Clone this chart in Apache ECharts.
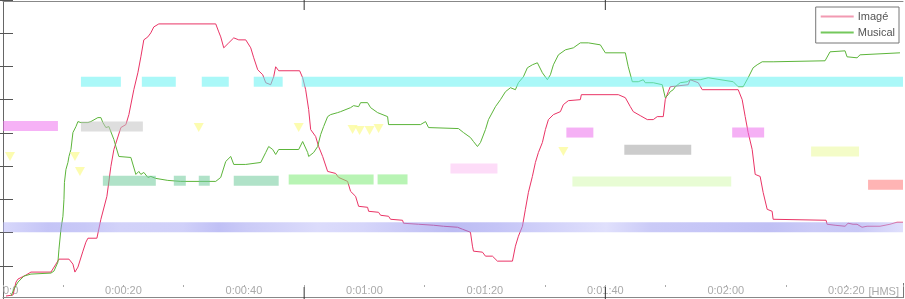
<!DOCTYPE html>
<html><head><meta charset="utf-8">
<script src="https://cdn.jsdelivr.net/npm/echarts@6/dist/echarts.min.js"></script>
<style>html,body{margin:0;padding:0;background:#fff}#c{width:905px;height:299px}</style>
</head><body><div id="c"></div>
<script>
// ---- data ----
const seriesNames = ['Imagé', 'Musical'];
const imageData = [[0.5,0.09],[1.66,0.12],[2.16,0.51],[2.49,0.6],[3.81,0.72],[4.64,0.81],[7.96,0.81],[8.79,1.05],[9.29,1.2],[10.95,1.2],[11.61,1.05],[11.94,0.81],[12.44,0.96],[13.27,1.44],[13.76,1.71],[14.1,1.83],[15.59,1.83],[16.25,2.4],[17.25,3.09],[17.91,3.99],[18.41,4.5],[19.57,5.16],[20.4,5.25],[20.9,5.55],[21.72,6.3],[22.39,6.81],[22.89,7.29],[23.38,7.8],[24.05,7.89],[24.54,8.01],[25.04,8.19],[25.87,8.28],[35.32,8.28],[35.82,8.04],[36.15,7.89],[36.65,7.56],[37.48,7.71],[38.31,7.86],[39.14,7.8],[40.3,7.8],[41.13,7.56],[41.63,7.26],[42.29,6.9],[43.12,6.75],[43.62,6.51],[44.44,6.45],[44.94,6.69],[45.27,6.99],[45.77,6.87],[49.25,6.87],[49.75,6.66],[50.25,6.3],[50.75,5.7],[51.08,5.1],[51.91,4.89],[52.4,4.59],[53.07,4.29],[53.9,3.84],[55.22,3.78],[55.72,3.66],[57.21,3.54],[57.71,3.24],[58.54,3.09],[59.04,2.79],[60.53,2.76],[60.7,2.64],[62.35,2.61],[62.69,2.52],[64.01,2.49],[64.34,2.4],[66.33,2.37],[66.5,2.28],[68.99,2.25],[71.48,2.22],[73.13,2.19],[75.46,2.16],[76.29,2.1],[77.61,2.01],[77.94,1.59],[78.11,1.44],[79.6,1.41],[80.1,1.29],[81.26,1.29],[82.09,1.14],[84.58,1.14],[85.07,1.59],[85.57,1.89],[86.24,2.19],[86.73,2.7],[87.23,3.21],[87.89,3.69],[88.39,4.11],[88.89,4.41],[89.55,4.71],[90.05,5.1],[90.55,5.4],[91.38,5.55],[92.54,5.64],[93.03,5.85],[93.86,5.97],[95.85,6.0],[96.02,6.15],[102.16,6.15],[103.32,6.06],[104.15,5.79],[104.64,5.64],[105.8,5.52],[106.97,5.4],[107.96,5.4],[108.62,5.49],[109.62,5.49],[109.95,6.0],[110.45,6.24],[110.78,6.39],[113.76,6.45],[114.09,6.6],[115.42,6.51],[116.09,6.3],[122.06,6.3],[122.72,6.0],[123.22,5.49],[123.71,5.01],[124.38,4.5],[124.88,3.75],[125.7,3.69],[126.2,3.21],[126.87,2.7],[127.69,2.64],[127.86,2.4],[136.65,2.37],[136.82,2.25],[138.14,2.22],[139.8,2.19],[140.3,2.28],[141.13,2.25],[141.46,2.31],[141.79,2.25],[142.62,2.16],[143.45,2.19],[145.61,2.19],[147.26,2.25],[148.42,2.31],[149.42,2.31]];
const musicalData = [[1.33,0.09],[1.82,0.3],[2.49,0.51],[2.99,0.6],[3.48,0.69],[4.64,0.75],[7.96,0.78],[8.46,0.84],[9.12,1.11],[9.29,1.5],[9.62,2.1],[9.95,2.49],[10.12,3.0],[10.2,3.51],[10.45,3.9],[10.78,4.11],[10.95,4.29],[11.28,4.5],[11.61,5.01],[12.11,5.19],[12.44,5.34],[12.94,5.31],[14.1,5.31],[14.59,5.34],[15.75,5.46],[16.25,5.46],[16.58,5.31],[17.08,5.16],[17.58,5.19],[17.91,5.16],[18.41,4.8],[18.74,4.59],[19.24,4.29],[21.23,4.26],[22.06,3.75],[22.55,3.84],[22.89,3.75],[23.38,3.81],[24.05,3.66],[24.54,3.69],[25.37,3.63],[27.36,3.57],[29.52,3.54],[35.32,3.54],[36.15,3.66],[36.98,4.14],[37.81,4.29],[38.31,4.05],[40.3,4.05],[40.63,4.11],[42.79,4.11],[43.62,4.41],[44.11,4.59],[44.78,4.5],[45.27,4.35],[45.77,4.5],[49.09,4.5],[49.75,4.74],[50.58,4.41],[50.75,4.29],[51.58,4.41],[52.24,4.59],[52.74,4.95],[53.23,5.19],[53.9,5.49],[54.39,5.55],[55.56,5.61],[56.05,5.64],[57.71,5.76],[58.21,5.82],[59.04,5.79],[59.37,5.91],[60.53,5.91],[61.03,5.76],[62.19,5.61],[63.85,5.49],[64.01,5.25],[69.32,5.25],[70.15,5.34],[70.65,5.16],[75.62,5.13],[76.45,5.01],[77.61,4.86],[78.11,4.74],[78.77,4.59],[79.27,4.71],[80.1,5.1],[80.6,5.4],[81.76,5.79],[82.59,6.0],[83.42,6.24],[84.25,6.36],[85.07,6.3],[85.57,6.51],[86.4,6.69],[87.06,6.96],[87.89,7.05],[88.72,7.11],[88.89,7.05],[89.55,6.81],[90.38,6.6],[90.88,6.75],[91.38,7.05],[92.21,7.35],[93.37,7.5],[94.69,7.56],[95.85,7.71],[97.18,7.71],[99.17,7.65],[100.0,7.41],[103.32,7.41],[103.81,6.99],[104.48,6.54],[105.47,6.54],[105.8,6.6],[106.3,6.6],[106.63,6.51],[107.96,6.51],[108.29,6.54],[109.45,6.45],[109.95,6.06],[110.28,6.0],[110.45,6.15],[110.78,6.24],[111.28,6.3],[111.61,6.39],[112.44,6.51],[113.6,6.54],[114.09,6.6],[115.75,6.6],[117.08,6.66],[121.23,6.54],[122.06,6.39],[122.89,6.39],[123.71,6.66],[124.54,6.96],[125.21,7.05],[126.04,7.14],[127.86,7.14],[128.19,7.17],[136.48,7.17],[137.31,7.44],[139.8,7.47],[140.13,7.29],[141.79,7.26],[142.29,7.35],[142.62,7.41],[148.92,7.41]];

// annotation tracks: level (y value) and segments [start s, end s]
const trackNames = ['blue','cyan','magentaA','grayLight','tealGreen','lightGreen','pink','magentaB','grayDark','yellowGreen','paleYellow','salmon'];
const trackLevels = [2.16, 6.54, 5.21, 5.19, 3.56, 3.6, 3.93, 5.01, 4.49, 3.54, 4.44, 3.44];
const trackSegments = [
  [[0, 149.42]],
  [[12.94,19.57],[23.05,28.69],[33.0,37.48],[41.63,46.43],[49.59,149.42]],
  [[0,9.12]],
  [[12.94,23.22]],
  [[16.58,25.37],[28.36,30.35],[32.5,34.33],[38.31,45.77]],
  [[47.43,61.53],[62.19,67.16]],
  [[74.29,82.09]],
  [[93.53,98.01],[121.06,126.37]],
  [[103.15,114.26]],
  [[94.53,120.9]],
  [[134.16,142.12]],
  [[143.62,149.42]]
];
// cue markers (triangles)
const cueData = [[1.16,4.29],[11.94,4.29],[12.77,3.84],[32.5,5.16],[49.09,5.16],[58.04,5.1],[59.2,5.07],[60.86,5.07],[62.35,5.13],[93.03,4.44]];
// section marks (s)
const sectionMarks = [50, 100];
// axis
const xMax = 149.42, yMin = 0, yMax = 9;

// ---- styles ----
const ALPHA = 0.55;
function overlay(hex, a) {
  const n = parseInt(hex.slice(1), 16);
  const ch = [(n >> 16) & 255, (n >> 8) & 255, n & 255].map(v => Math.max(0, Math.min(255, Math.round(255 - (255 - v) / a))));
  return 'rgba(' + ch.join(',') + ',' + a + ')';
}
const trackColors = {
  cyan:'#aaf8f8', magentaA:'#f6b2f6', grayLight:'#dedede', tealGreen:'#b0e2c8', lightGreen:'#b8f4b4',
  pink:'#fddcf8', magentaB:'#f5b0f5', grayDark:'#cccccc', yellowGreen:'#e8fcd4', paleYellow:'#f4fcc8', salmon:'#ffb4b4'
};
const blueStops = [[0,'#d8d8fb'],[0.05,'#c4c4f6'],[0.09,'#c8c8f7'],[0.13,'#d2d2f9'],[0.2,'#d0d0f9'],[0.24,'#c0c0f5'],[0.27,'#cacaf7'],[0.35,'#dcdcfb'],[0.4,'#d6d6fa'],[0.5,'#bcbcf3'],[0.55,'#c4c4f6'],[0.6,'#d0d0f9'],[0.67,'#e0e0fc'],[0.72,'#cacaf7'],[0.8,'#c4c4f6'],[0.85,'#c0c0f4'],[0.9,'#cacaf7'],[0.95,'#c8c8f6'],[1,'#e0e0fc']];

function fmt(v) {
  const s = Math.round(v);
  if (s === 0) return '0:0';
  const h = Math.floor(s / 3600), m = Math.floor((s % 3600) / 60), sec = s % 60;
  return h + ':' + String(m).padStart(2, '0') + ':' + String(sec).padStart(2, '0');
}

const rectData = [];
trackNames.forEach((name, i) => trackSegments[i].forEach(seg => rectData.push([seg[0], seg[1], trackLevels[i], i])));

const chart = echarts.init(document.getElementById('c'), null, {renderer: 'canvas'});
const gray = '#aaaaaa';
chart.setOption({
  animation: false,
  backgroundColor: '#ffffff',
  grid: {left: 2, right: 2, top: 0, bottom: 0},
  legend: {
    orient: 'vertical', right: 6, top: 7,
    backgroundColor: '#fff', borderColor: '#777', borderWidth: 1,
    padding: [4, 4, 5, 5], itemGap: 5, itemWidth: 33, itemHeight: 2, icon: 'rect',
    textStyle: {fontFamily: 'Liberation Sans', fontSize: 11, color: '#555', padding: [0, 0, 0, -1]},
    data: [
      {name: seriesNames[0], itemStyle: {color: '#f29ab2'}},
      {name: seriesNames[1], itemStyle: {color: '#74c85c'}}
    ]
  },
  xAxis: [
    {type: 'value', min: 0, max: xMax, interval: 20, position: 'bottom', offset: -2,
     axisLine: {show: true, lineStyle: {color: '#888', width: 1}},
     axisTick: {show: false}, splitLine: {show: false},
     axisLabel: {inside: true, margin: 1, color: gray, fontFamily: 'Liberation Sans', fontSize: 11, formatter: fmt, alignMinLabel: 'left', showMaxLabel: false}},
    {type: 'value', min: 0, max: xMax, interval: 10, position: 'bottom', offset: -12,
     axisLine: {show: false}, axisLabel: {show: false}, splitLine: {show: false},
     axisTick: {show: true, inside: true, length: 2, lineStyle: {color: '#aaa'}}},
    {type: 'value', min: 0, max: xMax, position: 'top', offset: -1,
     axisLine: {show: true, lineStyle: {color: '#888'}}, axisLabel: {show: false}, axisTick: {show: false}, splitLine: {show: false}}
  ],
  yAxis: [
    {type: 'value', min: yMin, max: yMax, interval: 1, position: 'left',
     axisLine: {show: true, lineStyle: {color: '#666'}}, axisLabel: {show: false}, splitLine: {show: false},
     axisTick: {show: true, inside: true, length: 10, lineStyle: {color: '#555'}}},
    {type: 'value', min: yMin, max: yMax, interval: 1, position: 'right',
     axisLine: {show: false}, axisLabel: {show: false}, splitLine: {show: false},
     axisTick: {show: true, inside: true, length: 10, lineStyle: {color: '#555'}}}
  ],
  graphic: [
    {type: 'text', right: 6, bottom: 2, style: {text: '[HMS]', fill: gray, font: '11px "Liberation Sans"'}},
    {type: 'line', shape: {x1: 903.5, y1: 283, x2: 903.5, y2: 298}, style: {stroke: '#777', lineWidth: 1}}
  ],
  series: [
    {name: seriesNames[0], type: 'line', data: imageData, showSymbol: false, z: 3,
     lineStyle: {color: '#ea3466', width: 1}, itemStyle: {color: '#ea3466'}},
    {name: seriesNames[1], type: 'line', data: musicalData, showSymbol: false, z: 3,
     lineStyle: {color: '#5cb53a', width: 1}, itemStyle: {color: '#5cb53a'}},
    {name: 'tracks', type: 'custom', z: 5, silent: true, data: rectData,
     renderItem: function (params, api) {
       const p0 = api.coord([api.value(0), api.value(2)]);
       const p1 = api.coord([api.value(1), api.value(2)]);
       const idx = api.value(3);
       const key = trackNames[idx];
       const h = 10;
       let fill;
       if (key === 'blue') {
         fill = {type: 'linear', x: 0, y: 0, x2: 1, y2: 0,
                 colorStops: blueStops.map(s => ({offset: s[0], color: overlay(s[1], ALPHA)}))};
       } else {
         fill = overlay(trackColors[key], ALPHA);
       }
       return {type: 'rect', shape: {x: p0[0], y: p0[1] - h / 2, width: p1[0] - p0[0], height: h}, style: {fill: fill}};
     }},
    {name: 'cues', type: 'scatter', data: cueData, z: 6, silent: true,
     symbol: 'triangle', symbolRotate: 180, symbolSize: [10, 9], itemStyle: {color: '#fbfb9c'}},
    {name: 'sections', type: 'custom', z: 7, silent: true, data: sectionMarks.map(v => [v]),
     renderItem: function (params, api) {
       const top = api.coord([api.value(0), yMax]);
       const bot = api.coord([api.value(0), yMin]);
       return {type: 'group', children: [
         {type: 'line', shape: {x1: top[0], y1: top[1], x2: top[0], y2: top[1] + 10}, style: {stroke: '#333', lineWidth: 1}},
         {type: 'line', shape: {x1: bot[0], y1: bot[1] - 12, x2: bot[0], y2: bot[1]}, style: {stroke: '#333', lineWidth: 1}}
       ]};
     }}
  ]
});
</script>
</body></html>
